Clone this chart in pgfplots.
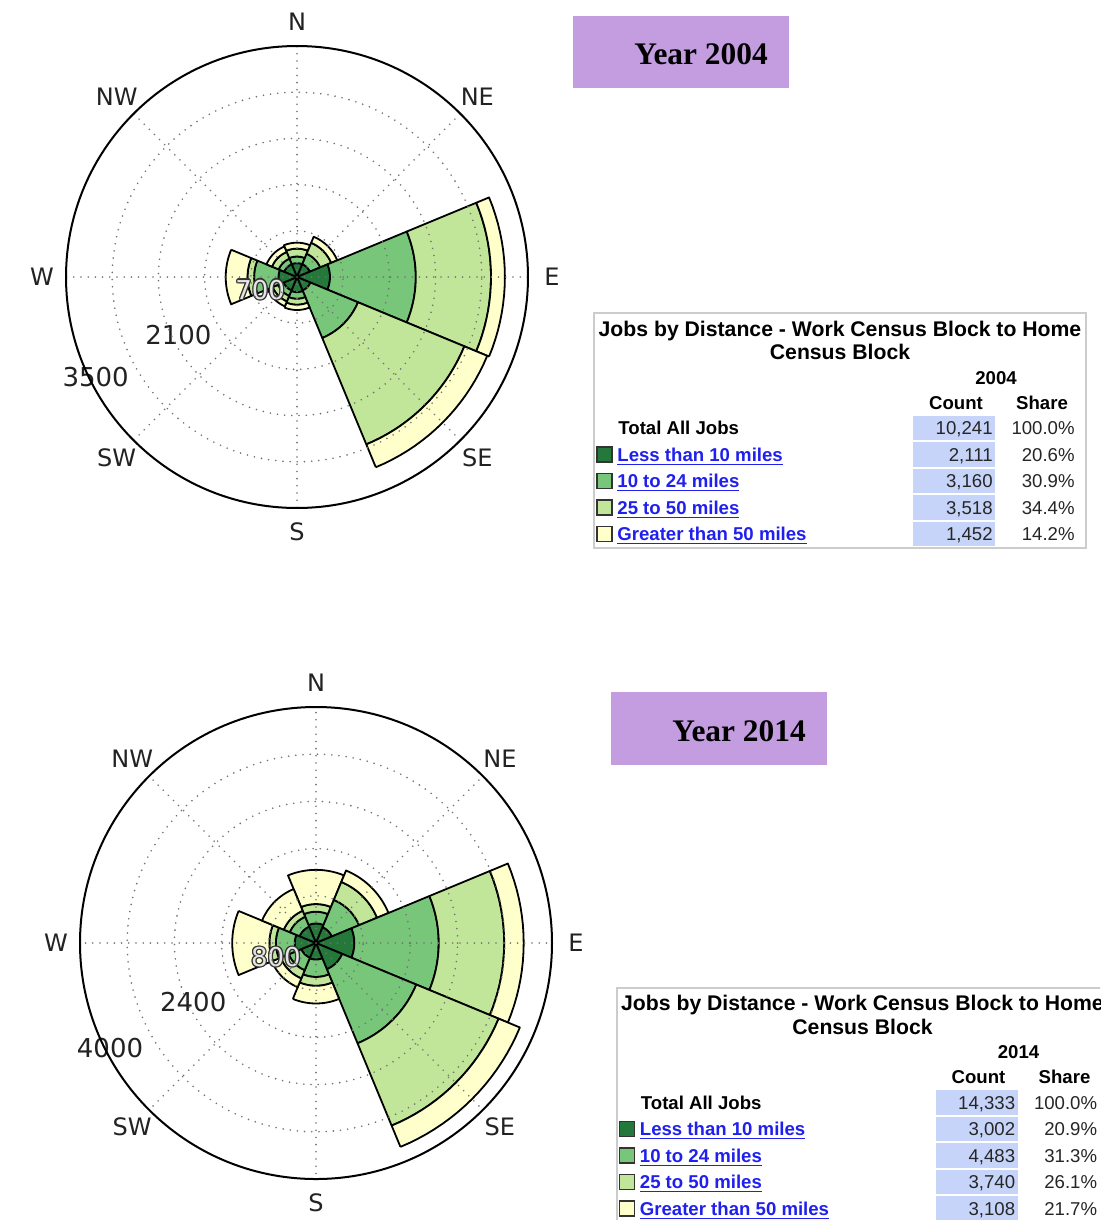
\documentclass[border=0pt]{standalone}
\usepackage{pgfplots}
\pgfplotsset{compat=1.18}
\usepgfplotslibrary{polar}
\usepackage{fontspec}
\setmainfont{Liberation Sans}
\newfontfamily\dejavu{DejaVu Sans}
\newfontfamily\serifb{Liberation Serif}

\definecolor{cA}{RGB}{35,120,58}
\definecolor{cB}{RGB}{120,198,121}
\definecolor{cC}{RGB}{194,230,153}
\definecolor{cD}{RGB}{255,255,204}
\definecolor{purp}{RGB}{196,156,224}
\definecolor{cell}{RGB}{198,212,249}
\definecolor{lnk}{RGB}{32,32,238}
\definecolor{txt}{RGB}{34,34,34}

% one stacked segment of a rose wedge: centre angle, inner radius, outer radius, colour
\newcommand\seg[4]{%
  \gdef\wcoords{}%
  \foreach \k in {0,...,18}{\pgfmathsetmacro\ang{#1-22.5+2.5*\k}\xdef\wcoords{\wcoords(\ang,#3)}}%
  \foreach \k in {18,...,0}{\pgfmathsetmacro\ang{#1-22.5+2.5*\k}\xdef\wcoords{\wcoords(\ang,#2)}}%
  \pgfmathsetmacro\ang{#1-22.5}\xdef\wcoords{\wcoords(\ang,#3)}%
  \edef\temp{\noexpand\addplot[draw=black,line width=0.9pt,line join=round,fill=#4] coordinates {\wcoords};}%
  \temp}
% a sector: angle, cumulative counts (<10, 10-24, 25-50, >50 miles)
\newcommand\sector[5]{\seg{#1}{0}{#2}{cA}\seg{#1}{#2}{#3}{cB}\seg{#1}{#3}{#4}{cC}\seg{#1}{#4}{#5}{cD}}
% haloed ring label
\newcommand\halo[3]{%
  \node[rl,text=black!80,xshift=0.6pt] at (axis cs:#1,#2) {#3};
  \node[rl,text=black!80,xshift=-0.6pt] at (axis cs:#1,#2) {#3};
  \node[rl,text=black!80,yshift=0.6pt] at (axis cs:#1,#2) {#3};
  \node[rl,text=black!80,yshift=-0.6pt] at (axis cs:#1,#2) {#3};
  \node[rl,text=black!80,xshift=0.45pt,yshift=0.45pt] at (axis cs:#1,#2) {#3};
  \node[rl,text=black!80,xshift=-0.45pt,yshift=0.45pt] at (axis cs:#1,#2) {#3};
  \node[rl,text=black!80,xshift=0.45pt,yshift=-0.45pt] at (axis cs:#1,#2) {#3};
  \node[rl,text=black!80,xshift=-0.45pt,yshift=-0.45pt] at (axis cs:#1,#2) {#3};
  \node[rl,text=white!90!black] at (axis cs:#1,#2) {#3};}

\pgfplotsset{rose/.style={
  scale only axis, anchor=center,
  xmin=0, xmax=360, ymin=0,
  xtick={0,45,...,315}, xticklabels={}, yticklabels={},
  grid=major,
  major grid style={black!55, line width=0.9pt, line cap=round, dash pattern=on 0pt off 3.6pt},
  axis line style={black, line width=1pt},
  y axis line style={draw=none},
  major tick length=0pt,
  axis on top, clip=false,
}}
\tikzset{
  lab/.style={font=\dejavu\fontsize{12}{14}\selectfont, text=txt, inner sep=0pt, overlay},
  rl/.style={font=\dejavu\fontsize{13}{15}\selectfont, text=txt, inner sep=0pt, overlay},
  tb/.style={font=\bfseries\fontsize{9.3}{11}\selectfont, inner sep=0pt},
  tn/.style={font=\fontsize{9.3}{11}\selectfont, text=black!85, inner sep=0pt},
}
% table row: centre y, colour, label, count, share
\newcommand\jrow[5]{%
  \fill[cell] (913,{#1-12.3}) rectangle (995,{#1+12.3});
  \filldraw[fill=#2, draw=black!80, line width=0.6pt] (597,{#1-7.5}) rectangle (612,{#1+7.5});
  \node[tb, anchor=base west, text=lnk] at (617,{#1+6.5}) {\underline{#3}};
  \node[tn, anchor=base east] at (993,{#1+6.5}) {#4};
  \node[tn, anchor=base east] at (1075,{#1+6.5}) {#5};}
\newcommand\jhead[3]{% year, total count
  \draw[black!20, line width=1pt] (594,313) rectangle (1086,548);
  \node[tb, font=\bfseries\fontsize{10.6}{12}\selectfont, anchor=base] at (840,336) {Jobs by Distance - Work Census Block to Home};
  \node[tb, font=\bfseries\fontsize{10.6}{12}\selectfont, anchor=base] at (840,359.5) {Census Block};
  \node[tb, anchor=base] at (996,384) {#1};
  \node[tb, anchor=base] at (956,409) {Count};
  \node[tb, anchor=base] at (1042,409) {Share};
  \fill[cell] (913,{428-12.3}) rectangle (995,{428+12.3});
  \node[tb, anchor=base west] at (618,434.5) {Total All Jobs};
  \node[tn, anchor=base east] at (993,434.5) {#2};
  \node[tn, anchor=base east] at (1075,434.5) {#3};}

\begin{document}
\begin{tikzpicture}[x=0.5pt,y=-0.5pt]
\useasboundingbox (0,0) rectangle (1100,1220);
\clip (0,0) rectangle (1100,1220);
\fill[white] (0,0) rectangle (1100,1220);

% ---------------- 2004 rose ----------------
\begin{polaraxis}[rose, at={(148.5pt,-138.5pt)}, width=231pt, height=231pt,
  ymax=3500, ytick={700,1400,2100,2800}]
\sector{90}{210}{310}{430}{520}
\sector{45}{210}{380}{560}{660}
\sector{0}{500}{1800}{2940}{3150}
\sector{315}{220}{1000}{2745}{3120}
\sector{270}{230}{330}{420}{500}
\sector{225}{220}{310}{400}{480}
\sector{180}{280}{650}{750}{1080}
\sector{135}{210}{300}{410}{500}
\node[lab] at (axis cs:90,3864) {N};
\node[lab] at (axis cs:45,3864) {NE};
\node[lab] at (axis cs:0,3864) {E};
\node[lab] at (axis cs:315,3864) {SE};
\node[lab] at (axis cs:270,3864) {S};
\node[lab] at (axis cs:225,3864) {SW};
\node[lab] at (axis cs:180,3864) {W};
\node[lab] at (axis cs:135,3864) {NW};
\halo{199}{590}{700}
\node[rl] at (axis cs:206,2000) {2100};
\node[rl] at (axis cs:206.5,3410) {3500};
\end{polaraxis}

% ---------------- 2014 rose ----------------
\begin{polaraxis}[rose, at={(158pt,-471.5pt)}, width=236pt, height=236pt,
  ymax=4000, ytick={800,1600,2400,3200}]
\sector{90}{330}{530}{660}{1240}
\sector{45}{290}{790}{1120}{1330}
\sector{0}{650}{2080}{3190}{3520}
\sector{315}{480}{1840}{3350}{3740}
\sector{270}{280}{575}{725}{1025}
\sector{225}{270}{500}{650}{810}
\sector{180}{360}{680}{790}{1420}
\sector{135}{300}{480}{590}{990}
\node[lab] at (axis cs:90,4407) {N};
\node[lab] at (axis cs:45,4407) {NE};
\node[lab] at (axis cs:0,4407) {E};
\node[lab] at (axis cs:315,4407) {SE};
\node[lab] at (axis cs:270,4407) {S};
\node[lab] at (axis cs:225,4407) {SW};
\node[lab] at (axis cs:180,4407) {W};
\node[lab] at (axis cs:135,4407) {NW};
\halo{199}{719}{800}
\node[rl] at (axis cs:205.6,2307) {2400};
\node[rl] at (axis cs:207,3918) {4000};
\end{polaraxis}

% ---------------- year boxes ----------------
\fill[purp] (573,16) rectangle (789,88);
\node[anchor=base, inner sep=0pt, font=\serifb\bfseries\fontsize{15.7}{18}\selectfont] at (701,65) {Year 2004};
\fill[purp] (611,692) rectangle (827,765);
\node[anchor=base, inner sep=0pt, font=\serifb\bfseries\fontsize{15.7}{18}\selectfont] at (739,741) {Year 2014};

% ---------------- tables ----------------
\begin{scope}
\jhead{2004}{10,241}{100.0\%}
\jrow{454.5}{cA}{Less than 10 miles}{2,111}{20.6\%}
\jrow{481}{cB}{10 to 24 miles}{3,160}{30.9\%}
\jrow{507.5}{cC}{25 to 50 miles}{3,518}{34.4\%}
\jrow{534}{cD}{Greater than 50 miles}{1,452}{14.2\%}
\end{scope}
\begin{scope}[shift={(22.5,674.5)}]
\jhead{2014}{14,333}{100.0\%}
\jrow{454.5}{cA}{Less than 10 miles}{3,002}{20.9\%}
\jrow{481}{cB}{10 to 24 miles}{4,483}{31.3\%}
\jrow{507.5}{cC}{25 to 50 miles}{3,740}{26.1\%}
\jrow{534}{cD}{Greater than 50 miles}{3,108}{21.7\%}
\end{scope}
\end{tikzpicture}
\end{document}
